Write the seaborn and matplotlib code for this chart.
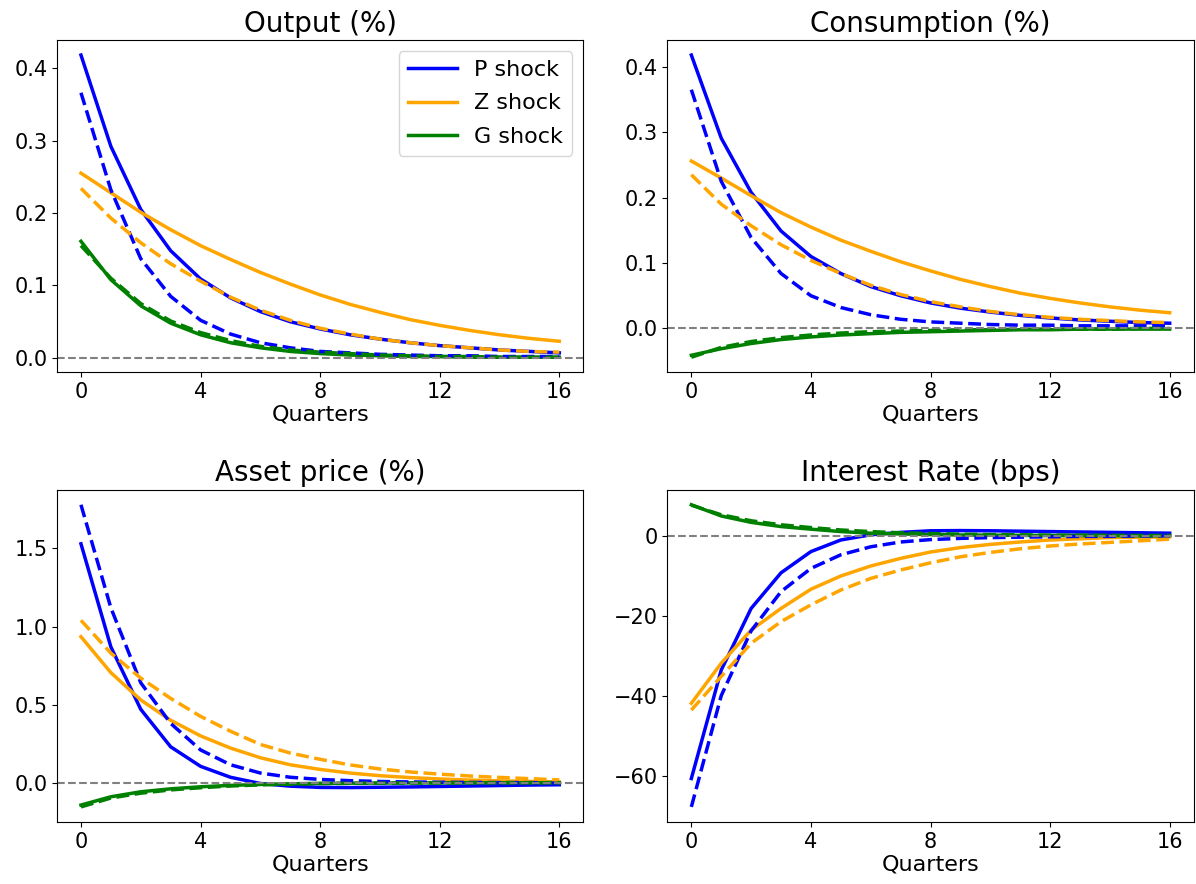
import numpy as np
import pandas as pd
import matplotlib
matplotlib.use('Agg')
import matplotlib.pyplot as plt
import seaborn as sns

# Impulse responses, quarters 0..16
quarters = list(range(17))
shock_names = ['P shock', 'Z shock', 'G shock']
shock_colors = ['blue', 'orange', 'green']
panel_titles = ['Output (%)', 'Consumption (%)', 'Asset price (%)', 'Interest Rate (bps)']

# Output (%)
output_P = [0.418, 0.292, 0.205, 0.148, 0.109, 0.083, 0.064, 0.050, 0.040, 0.032, 0.026, 0.021, 0.017, 0.014, 0.011, 0.009, 0.007]
output_Z = [0.255, 0.228, 0.201, 0.177, 0.155, 0.136, 0.118, 0.102, 0.087, 0.074, 0.063, 0.053, 0.045, 0.038, 0.032, 0.027, 0.023]
output_G = [0.161, 0.108, 0.072, 0.048, 0.032, 0.021, 0.014, 0.009, 0.006, 0.004, 0.003, 0.002, 0.002, 0.001, 0.001, 0.001, 0.001]
output_P_alt = [0.366, 0.232, 0.137, 0.085, 0.052, 0.033, 0.021, 0.014, 0.009, 0.007, 0.005, 0.004, 0.003, 0.003, 0.002, 0.002, 0.002]
output_Z_alt = [0.234, 0.193, 0.159, 0.130, 0.106, 0.084, 0.066, 0.052, 0.041, 0.033, 0.026, 0.021, 0.017, 0.014, 0.011, 0.009, 0.008]
output_G_alt = [0.155, 0.110, 0.075, 0.051, 0.035, 0.024, 0.016, 0.011, 0.008, 0.006, 0.004, 0.003, 0.002, 0.002, 0.001, 0.001, 0.001]

# Consumption (%)
cons_P = [0.418, 0.291, 0.208, 0.149, 0.110, 0.084, 0.064, 0.050, 0.039, 0.031, 0.025, 0.020, 0.016, 0.013, 0.011, 0.009, 0.008]
cons_Z = [0.256, 0.230, 0.203, 0.177, 0.155, 0.135, 0.118, 0.102, 0.088, 0.075, 0.064, 0.054, 0.046, 0.039, 0.033, 0.028, 0.024]
cons_G = [-0.041, -0.031, -0.023, -0.017, -0.013, -0.010, -0.008, -0.006, -0.005, -0.004, -0.003, -0.002, -0.002, -0.001, -0.001, -0.001, -0.001]
cons_P_alt = [0.365, 0.225, 0.139, 0.084, 0.050, 0.032, 0.021, 0.014, 0.010, 0.008, 0.006, 0.005, 0.005, 0.004, 0.004, 0.004, 0.004]
cons_Z_alt = [0.235, 0.190, 0.157, 0.128, 0.104, 0.084, 0.066, 0.052, 0.041, 0.033, 0.026, 0.021, 0.017, 0.014, 0.012, 0.010, 0.009]
cons_G_alt = [-0.044, -0.029, -0.020, -0.014, -0.010, -0.007, -0.005, -0.004, -0.003, -0.002, -0.002, -0.001, -0.001, -0.001, -0.001, 0.000, 0.000]

# Asset price (%)
asset_P = [1.53, 0.87, 0.47, 0.23, 0.105, 0.035, -0.005, -0.022, -0.030, -0.031, -0.029, -0.027, -0.024, -0.021, -0.018, -0.015, -0.013]
asset_Z = [0.935, 0.705, 0.530, 0.400, 0.300, 0.222, 0.160, 0.115, 0.085, 0.062, 0.045, 0.033, 0.024, 0.017, 0.012, 0.008, 0.005]
asset_G = [-0.143, -0.090, -0.058, -0.039, -0.026, -0.017, -0.011, -0.007, -0.004, -0.003, -0.002, -0.001, -0.001, 0.0, 0.0, 0.0, 0.0]
asset_P_alt = [1.78, 1.12, 0.64, 0.38, 0.21, 0.115, 0.062, 0.035, 0.021, 0.013, 0.008, 0.005, 0.003, 0.002, 0.001, 0.001, 0.000]
asset_Z_alt = [1.040, 0.830, 0.670, 0.540, 0.425, 0.330, 0.245, 0.190, 0.150, 0.114, 0.088, 0.069, 0.055, 0.043, 0.034, 0.026, 0.018]
asset_G_alt = [-0.155, -0.098, -0.067, -0.046, -0.032, -0.021, -0.014, -0.009, -0.006, -0.004, -0.003, -0.002, -0.001, -0.001, 0.0, 0.0, 0.0]

# Interest rate (bps)
rate_P = [-60.7, -33.6, -18.2, -9.3, -4.0, -1.1, 0.2, 0.8, 1.2, 1.25, 1.2, 1.1, 1.0, 0.9, 0.8, 0.7, 0.6]
rate_Z = [-41.9, -31.9, -23.6, -18.2, -13.4, -10.1, -7.6, -5.7, -4.1, -3.0, -2.2, -1.6, -1.1, -0.8, -0.5, -0.4, -0.3]
rate_G = [7.7, 4.9, 3.3, 2.25, 1.6, 1.0, 0.6, 0.4, 0.25, 0.15, 0.1, 0.05, 0.0, 0.0, 0.0, 0.0, 0.0]
rate_P_alt = [-67.8, -40.0, -23.8, -14.0, -8.2, -4.8, -2.8, -1.6, -1.0, -0.7, -0.5, -0.4, -0.3, -0.2, -0.2, -0.1, -0.1]
rate_Z_alt = [-43.6, -35.2, -26.9, -21.5, -17.3, -13.6, -10.7, -8.6, -6.8, -5.3, -4.2, -3.3, -2.6, -2.1, -1.7, -1.3, -0.9]
rate_G_alt = [7.6, 5.2, 3.7, 2.7, 2.0, 1.4, 1.0, 0.7, 0.5, 0.35, 0.25, 0.2, 0.1, 0.1, 0.05, 0.0, 0.0]

panels = [
    ([output_P, output_Z, output_G], [output_P_alt, output_Z_alt, output_G_alt]),
    ([cons_P, cons_Z, cons_G], [cons_P_alt, cons_Z_alt, cons_G_alt]),
    ([asset_P, asset_Z, asset_G], [asset_P_alt, asset_Z_alt, asset_G_alt]),
    ([rate_P, rate_Z, rate_G], [rate_P_alt, rate_Z_alt, rate_G_alt]),
]

fig, axes = plt.subplots(2, 2, figsize=(11.96, 8.84), dpi=100)
fig.subplots_adjust(left=0.0477, right=0.998, top=0.9548, bottom=0.0701,
                    wspace=0.16, hspace=0.353)

for ax, title, (solid, dashed) in zip(axes.flat, panel_titles, panels):
    for name, col, ys in zip(shock_names, shock_colors, solid):
        sns.lineplot(x=quarters, y=ys, color=col, linewidth=2.5, label=name, ax=ax)
    for col, ys in zip(shock_colors, dashed):
        sns.lineplot(x=quarters, y=ys, color=col, linewidth=2.5, linestyle='--', ax=ax)
    ax.axhline(0, color='gray', linestyle='--', linewidth=1.5)
    ax.set_title(title, fontsize=20)
    ax.set_xlabel('Quarters', fontsize=16, labelpad=2)
    ax.set_xticks([0, 4, 8, 12, 16])
    ax.tick_params(labelsize=15)
    if ax is axes[0, 0]:
        ax.legend(loc='upper right', fontsize=16, labelspacing=0.6, handlelength=2.2)
    else:
        ax.get_legend().remove()

fig.savefig('out.png', dpi=100)
